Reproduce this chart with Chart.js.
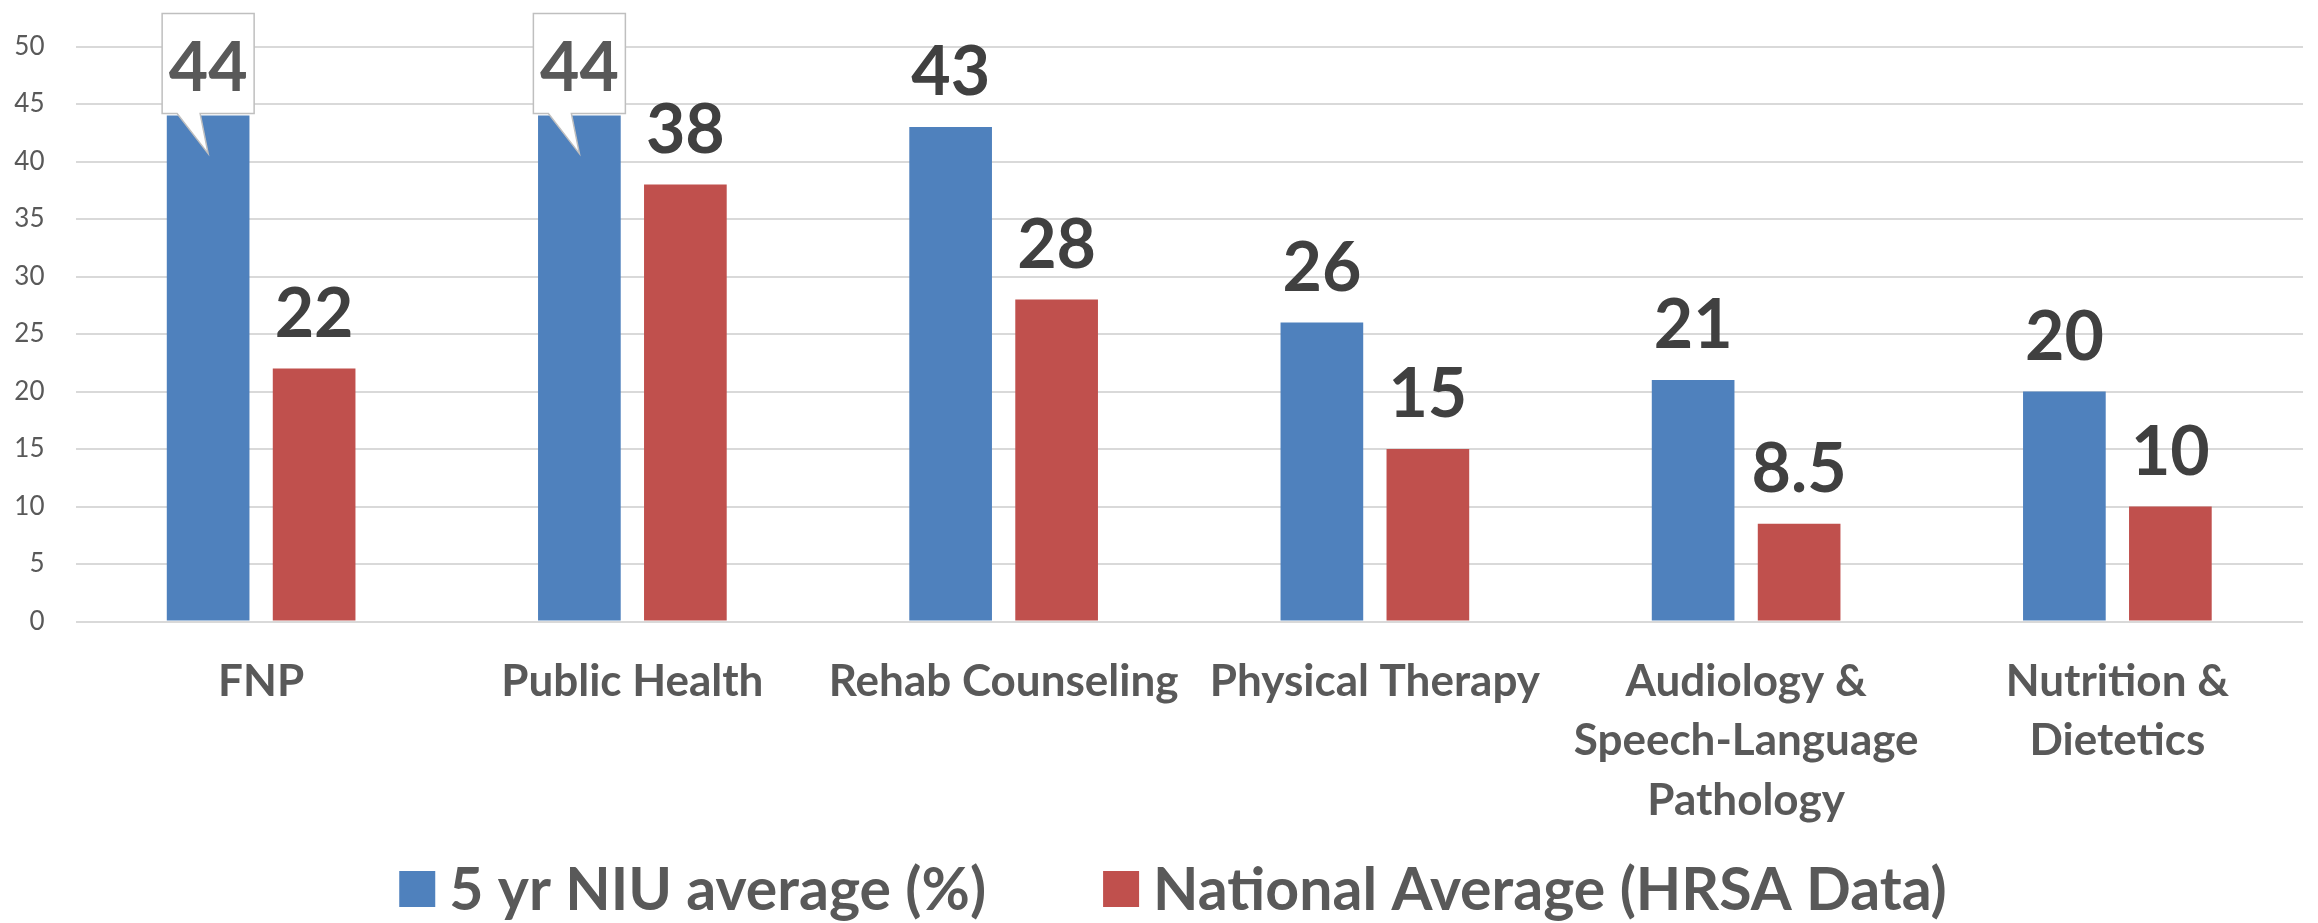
<!DOCTYPE html>
<html>
<head>
<meta charset="utf-8">
<title>NIU vs National Average</title>
<script src="https://cdn.jsdelivr.net/npm/chart.js@4.4.1/dist/chart.umd.min.js"></script>
<style>
    body { margin: 0; background: #ffffff; }
    #wrap { width: 2318px; height: 923px; }
</style>
</head>
<body>
<div id="wrap"><canvas id="myChart" width="2318" height="923"></canvas></div>
<script>
const categories = [
    "FNP",
    "Public Health",
    "Rehab Counseling",
    "Physical Therapy",
    ["Audiology &", "Speech-Language", "Pathology"],
    ["Nutrition &", "Dietetics"]
];
const niuAverage = [44, 44, 43, 26, 21, 20];
const nationalAverage = [22, 38, 28, 15, 8.5, 10];
const yTicks = [0, 5, 10, 15, 20, 25, 30, 35, 40, 45, 50];
const seriesNames = ["5 yr NIU average (%)", "National Average (HRSA Data)"];
// which blue bars get the speech-bubble label
const calloutIdx = [0, 1];

const FONT = "Lato, 'Open Sans', sans-serif";

// value labels above bars (+ the two callout boxes)
const valueLabels = {
    id: "valueLabels",
    afterDatasetsDraw(chart) {
        const ctx = chart.ctx;
        ctx.save();
        ctx.font = "bold 68px " + FONT;
        ctx.textAlign = "center";
        ctx.textBaseline = "alphabetic";
        chart.data.datasets.forEach(function (ds, di) {
            const meta = chart.getDatasetMeta(di);
            meta.data.forEach(function (bar, i) {
                const txt = String(ds.data[i]);
                if (di === 0 && calloutIdx.includes(i)) {
                    const top = bar.y - 102;
                    const bottom = bar.y - 2;
                    const left = bar.x - 46;
                    const right = bar.x + 46;
                    ctx.beginPath();
                    ctx.moveTo(left, top);
                    ctx.lineTo(right, top);
                    ctx.lineTo(right, bottom);
                    ctx.lineTo(bar.x - 8, bottom);
                    ctx.lineTo(bar.x, bar.y + 38);
                    ctx.lineTo(bar.x - 31, bottom);
                    ctx.lineTo(left, bottom);
                    ctx.closePath();
                    ctx.fillStyle = "#ffffff";
                    ctx.fill();
                    ctx.lineWidth = 1.5;
                    ctx.strokeStyle = "#bfbfbf";
                    ctx.stroke();
                    ctx.fillStyle = "#595959";
                    ctx.fillText(txt, bar.x, bar.y - 25);
                } else {
                    ctx.fillStyle = "#404040";
                    ctx.fillText(txt, bar.x, bar.y - 32);
                }
            });
        });
        ctx.restore();
    }
};

// legend drawn by hand so the spacing matches
const bottomLegend = {
    id: "bottomLegend",
    afterDraw(chart) {
        const ctx = chart.ctx;
        const box = 36, gapText = 14, gapItem = 117;
        ctx.save();
        ctx.font = "bold 59px " + FONT;
        const widths = chart.data.datasets.map(ds => ctx.measureText(ds.label).width);
        let total = 0;
        widths.forEach(function (w, i) {
            total += box + gapText + w + (i > 0 ? gapItem : 0);
        });
        let x = chart.width / 2 + 14 - total / 2;
        const cy = 889;
        ctx.textBaseline = "middle";
        ctx.textAlign = "left";
        chart.data.datasets.forEach(function (ds, i) {
            ctx.fillStyle = ds.backgroundColor;
            ctx.fillRect(x, cy - box / 2, box, box);
            x += box + gapText;
            ctx.fillStyle = "#595959";
            ctx.fillText(ds.label, x, cy + 2);
            x += widths[i] + gapItem;
        });
        ctx.restore();
    }
};

const chartConfig = new Chart(document.getElementById("myChart"), {
    type: "bar",
    data: {
        labels: categories,
        datasets: [
            {
                label: seriesNames[0],
                data: niuAverage,
                backgroundColor: "#4f81bd",
                barPercentage: 0.78,
                categoryPercentage: 0.571
            },
            {
                label: seriesNames[1],
                data: nationalAverage,
                backgroundColor: "#c0504d",
                barPercentage: 0.78,
                categoryPercentage: 0.571
            }
        ]
    },
    options: {
        responsive: false,
        animation: false,
        layout: {
            padding: { top: 38.5, right: 15, bottom: 68, left: 0 }
        },
        plugins: {
            legend: { display: false },
            tooltip: { enabled: false }
        },
        scales: {
            x: {
                grid: { display: false, drawTicks: false },
                border: { display: false },
                ticks: {
                    color: "#595959",
                    font: { family: FONT, size: 44, weight: "bold", lineHeight: 1.36 },
                    padding: 30,
                    maxRotation: 0,
                    autoSkip: false
                },
                afterFit: function (scale) {
                    scale.height = 233.5;
                }
            },
            y: {
                min: 0,
                max: 50,
                afterBuildTicks: function (scale) {
                    scale.ticks = yTicks.map(v => ({ value: v }));
                },
                grid: { color: "#d9d9d9", lineWidth: 2, drawTicks: false },
                border: { display: false },
                ticks: {
                    color: "#595959",
                    font: { family: FONT, size: 26 },
                    padding: 31
                },
                afterFit: function (scale) {
                    scale.width = 75.5;
                }
            }
        }
    },
    plugins: [valueLabels, bottomLegend]
});
</script>
</body>
</html>
